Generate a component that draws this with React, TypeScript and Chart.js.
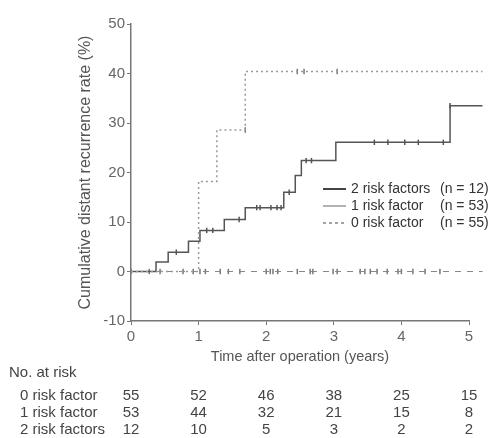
import React, { useEffect, useRef } from "react";
import { Chart, registerables } from "chart.js";

Chart.register(...registerables);

// Step curves (time in years, cumulative rate %)
const twoRiskTimes = [0, 1.0, 1.27, 1.69, 5.2];
const twoRiskRates = [0, 18.2, 28.6, 40.4, 40.4];
const twoRiskCensorTimes = [1.69, 2.46, 2.56, 3.05];
const twoRiskCensorRates = [28.6, 40.4, 40.4, 40.4];

const oneRiskTimes = [0, 0.37, 0.55, 0.85, 1.02, 1.38, 1.69, 2.26, 2.43, 2.52, 3.03, 4.72, 5.2];
const oneRiskRates = [0, 1.9, 3.9, 6.1, 8.3, 10.5, 12.9, 16.0, 19.4, 22.4, 26.1, 33.5, 33.5];
const oneRiskCensorTimes = [0.67, 1.12, 1.21, 1.6, 1.86, 1.91, 2.07, 2.16, 2.22, 2.34, 2.59, 2.67, 3.6, 3.8, 4.05, 4.25, 4.62, 4.72];
const oneRiskCensorRates = [3.9, 8.3, 8.3, 10.5, 12.9, 12.9, 12.9, 12.9, 12.9, 16.0, 22.4, 22.4, 26.1, 26.1, 26.1, 26.1, 26.1, 33.5];

const zeroRiskTimes = [0, 5.2];
const zeroRiskRates = [0, 0];
const zeroRiskCensorTimes = [0, 0.27, 0.43, 0.77, 0.92, 1.02, 1.1, 1.32, 1.44, 1.61, 2.0, 2.06, 2.1, 2.17, 2.46, 2.65, 2.69, 2.99, 3.05, 3.39, 3.46, 3.54, 3.64, 3.79, 3.95, 4.0, 4.17, 4.35, 4.57];
const zeroRiskCensorRates = [0, 0, 0, 0, 0, 0, 0, 0, 0, 0, 0, 0, 0, 0, 0, 0, 0, 0, 0, 0, 0, 0, 0, 0, 0, 0, 0, 0, 0];

// Legend
const legendLabels = ["2 risk factors", "1 risk factor", "0 risk factor"];
const legendCounts = ["(n = 12)", "(n = 53)", "(n = 55)"];

// Number-at-risk table
const riskTimes = [0, 1, 2, 3, 4, 5];
const riskRowLabels = ["0 risk factor", "1 risk factor", "2 risk factors"];
const riskZero = [55, 52, 46, 38, 25, 15];
const riskOne = [53, 44, 32, 21, 15, 8];
const riskTwo = [12, 10, 5, 3, 2, 2];

const FONT = "'Liberation Sans', Arial, sans-serif";

const pts = (xs: number[], ys: number[]) => xs.map((x, i) => ({ x, y: ys[i] }));

const overlayPlugin = {
  id: "overlay",
  afterDraw(chart: any) {
    const ctx = chart.ctx as CanvasRenderingContext2D;
    const xs = chart.scales.x;
    ctx.save();
    // Legend
    const legendStyles = [
      { color: "#444", width: 2, dash: [] as number[] },
      { color: "#666", width: 1, dash: [] as number[] },
      { color: "#666", width: 1.2, dash: [3, 3] },
    ];
    const legY = [189, 206, 223];
    ctx.font = `14px ${FONT}`;
    ctx.textBaseline = "middle";
    legendLabels.forEach((lab, i) => {
      const st = legendStyles[i];
      ctx.beginPath();
      ctx.strokeStyle = st.color;
      ctx.lineWidth = st.width;
      ctx.setLineDash(st.dash);
      ctx.moveTo(323, legY[i]);
      ctx.lineTo(346, legY[i]);
      ctx.stroke();
      ctx.setLineDash([]);
      ctx.fillStyle = "#333";
      ctx.textAlign = "left";
      ctx.fillText(lab, 351, legY[i]);
      ctx.fillText(legendCounts[i], 440, legY[i]);
    });
    // Table
    ctx.font = `15px ${FONT}`;
    ctx.fillStyle = "#444";
    ctx.textAlign = "left";
    ctx.fillText("No. at risk", 9, 373);
    const rows = [riskZero, riskOne, riskTwo];
    const rowY = [396, 413, 430];
    rows.forEach((row, r) => {
      ctx.textAlign = "left";
      ctx.fillText(riskRowLabels[r], 20, rowY[r]);
      ctx.textAlign = "center";
      row.forEach((v, i) => {
        ctx.fillText(String(v), xs.getPixelForValue(riskTimes[i]), rowY[r]);
      });
    });
    ctx.restore();
  },
};

export default function App() {
  const ref = useRef<HTMLCanvasElement>(null);
  useEffect(() => {
    if (!ref.current) return;
    const lineBase = { stepped: true, pointRadius: 0, fill: false, clip: false as any, tension: 0 };
    const censorBase = {
      showLine: false,
      pointStyle: "line",
      rotation: 90,
      pointRadius: 2.7,
      pointBorderWidth: 1.5,
      clip: false as any,
    };
    const chart = new Chart(ref.current, {
      type: "line",
      data: {
        datasets: [
          { ...lineBase, label: "2 risk factors", data: pts(twoRiskTimes, twoRiskRates), borderColor: "#9a9a9a", borderWidth: 1.5, borderDash: [2, 3] },
          { ...lineBase, label: "1 risk factor", data: pts(oneRiskTimes, oneRiskRates), borderColor: "#555", borderWidth: 1.5 },
          { ...lineBase, label: "0 risk factor", data: pts(zeroRiskTimes, zeroRiskRates), borderColor: "#888", borderWidth: 1.2, borderDash: [6, 6] },
          { ...censorBase, label: "c2", data: pts(twoRiskCensorTimes, twoRiskCensorRates), borderColor: "#777", pointBorderColor: "#777" },
          { ...censorBase, label: "c1", data: pts(oneRiskCensorTimes, oneRiskCensorRates), borderColor: "#555", pointBorderColor: "#555" },
          { ...censorBase, label: "c0", data: pts(zeroRiskCensorTimes, zeroRiskCensorRates), borderColor: "#777", pointBorderColor: "#777" },
        ] as any,
      },
      options: {
        animation: false,
        responsive: false,
        events: [],
        layout: { padding: { top: 24, right: 23, left: 0, bottom: 0 } },
        plugins: { legend: { display: false }, tooltip: { enabled: false } },
        scales: {
          x: {
            type: "linear",
            min: 0,
            max: 5,
            afterFit: (s: any) => { s.height = 117; },
            ticks: { stepSize: 1, color: "#666", font: { family: FONT, size: 15 }, padding: 3 },
            grid: { drawOnChartArea: false, tickLength: 4, color: "#777" },
            border: { color: "#777", width: 1.5 },
            title: { display: true, text: "Time after operation (years)", color: "#555", font: { family: FONT, size: 14.5 }, padding: { top: 0, bottom: 72 } },
          },
          y: {
            min: -10,
            max: 50,
            afterFit: (s: any) => { s.width = 131; },
            ticks: { stepSize: 10, color: "#666", font: { family: FONT, size: 15 }, padding: 2 },
            grid: { drawOnChartArea: false, tickLength: 4, color: "#777" },
            border: { color: "#777", width: 1.5 },
            title: { display: true, text: "Cumulative distant recurrence rate (%)", color: "#555", font: { family: FONT, size: 16 }, padding: { top: 76, bottom: 0 } },
          },
        },
      } as any,
      plugins: [overlayPlugin],
    });
    return () => chart.destroy();
  }, []);
  return (
    <div style={{ position: "absolute", left: 0, top: 0, width: 492, height: 438, background: "#fff" }}>
      <canvas ref={ref} width={492} height={438} />
    </div>
  );
}
